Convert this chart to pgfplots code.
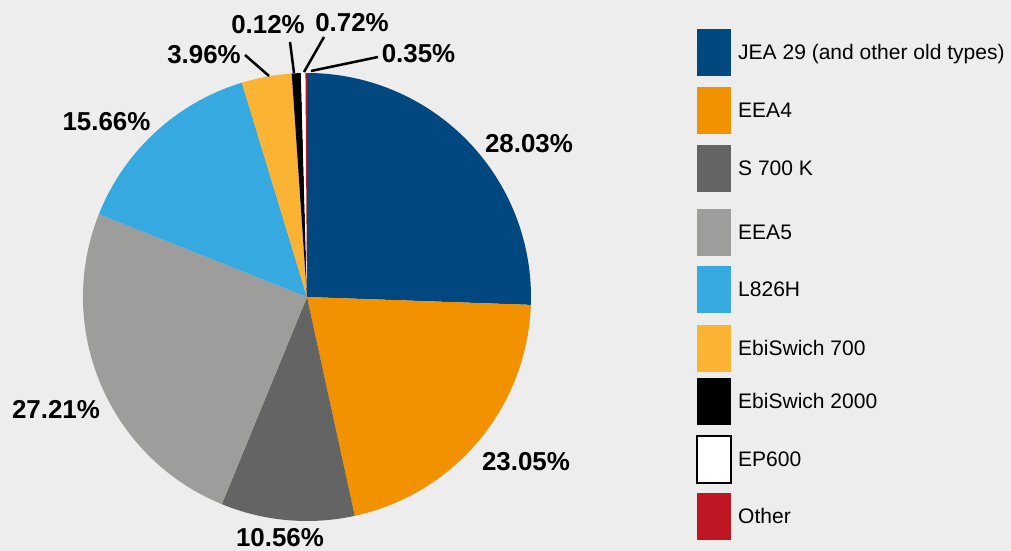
\documentclass[border=0pt]{standalone}
\usepackage{fontspec}
\setmainfont{Liberation Sans}
\usepackage{pgfplots}
\usepackage{pgfplotstable}
\pgfplotsset{compat=1.18}
\definecolor{bgcol}{HTML}{EDEDED}
\definecolor{cJEA}{HTML}{00487F}
\definecolor{cEEAfour}{HTML}{F39200}
\definecolor{cSK}{HTML}{646464}
\definecolor{cEEAfive}{HTML}{9D9D9C}
\definecolor{cL}{HTML}{36A9E1}
\definecolor{cEbiA}{HTML}{FBB334}
\definecolor{cEbiB}{HTML}{000000}
\definecolor{cEP}{HTML}{FFFFFF}
\definecolor{cOther}{HTML}{BE1622}

% value = share, col = slice colour, ytop = legend box top (px from top), bd = legend box border
\pgfplotstableread[col sep=comma]{
name,value,col,ytop,bd
JEA 29 (and other old types),28.03,cJEA,29,none
EEA4,23.05,cEEAfour,87,none
S 700 K,10.56,cSK,145,none
EEA5,27.21,cEEAfive,209,none
L826H,15.66,cL,266,none
EbiSwich 700,3.96,cEbiA,325,none
EbiSwich 2000,0.72,cEbiB,378,none
EP600,0.35,cEP,436,black
Other,0.12,cOther,493,none
}\piedata

\begin{document}
\begin{tikzpicture}
\fill[bgcol] (0,0) rectangle (1011bp,551bp);
\useasboundingbox (0,0) rectangle (1011bp,551bp);
\begin{axis}[
  at={(0,0)}, anchor=origin,
  x=1bp, y=1bp,
  xmin=0, xmax=1011, ymin=0, ymax=551,
  hide axis, clip=false,
]
\pgfplotsextra{
  \pgfplotstablegetrowsof{\piedata}
  \pgfmathtruncatemacro\nlast{\pgfplotsretval-1}
  \gdef\pietot{0}
  \foreach \i in {0,...,\nlast}{
    \pgfplotstablegetelem{\i}{value}\of\piedata
    \pgfmathparse{\pietot+\pgfplotsretval}
    \xdef\pietot{\pgfmathresult}
  }
  \gdef\piecum{90}
  \foreach \i in {0,...,\nlast}{
    \pgfplotstablegetelem{\i}{value}\of\piedata \let\sval\pgfplotsretval
    \pgfplotstablegetelem{\i}{col}\of\piedata \let\scol\pgfplotsretval
    \pgfmathsetmacro\send{\piecum-360*\sval/\pietot}
    \fill[fill=\scol] (axis cs:307,254) -- (axis cs:{307+224*cos(\piecum)},{254+224*sin(\piecum)})
       arc[start angle=\piecum, end angle=\send, radius=224bp] -- cycle;
    \xdef\piecum{\send}
  }
  % legend
  \foreach \i in {0,...,\nlast}{
    \pgfplotstablegetelem{\i}{name}\of\piedata \let\lname\pgfplotsretval
    \pgfplotstablegetelem{\i}{col}\of\piedata \let\scol\pgfplotsretval
    \pgfplotstablegetelem{\i}{ytop}\of\piedata \let\ltop\pgfplotsretval
    \pgfplotstablegetelem{\i}{bd}\of\piedata \let\lbd\pgfplotsretval
    \pgfmathsetmacro\yt{551-\ltop}
    \filldraw[fill=\scol, draw=\lbd, line width=2bp] (axis cs:697,\yt) rectangle (axis cs:731,{\yt-47});
    \node[anchor=base west, inner sep=0pt] at (axis cs:738,{\yt-30.5}) {\fontsize{21.1}{25}\selectfont\lname};
  }
}
% leader lines
\draw[line width=2.5bp] (axis cs:245,496) -- (axis cs:269,475);
\draw[line width=2.5bp] (axis cs:290,509) -- (axis cs:294,478);
\draw[line width=2.5bp] (axis cs:324,514) -- (axis cs:304,479);
\draw[line width=2.5bp] (axis cs:378,494) -- (axis cs:311,480);
% percentage labels
\begin{scope}[every node/.style={anchor=base, inner sep=0pt, font=\fontsize{26}{30}\selectfont\bfseries}]
\node at (axis cs:529,398) {28.03\%};
\node at (axis cs:526,81) {23.05\%};
\node at (axis cs:280,4.7) {10.56\%};
\node at (axis cs:56,133) {27.21\%};
\node at (axis cs:106.5,420) {15.66\%};
\node at (axis cs:204,487.5) {3.96\%};
\node at (axis cs:268,517) {0.12\%};
\node at (axis cs:352,519) {0.72\%};
\node at (axis cs:418.5,488) {0.35\%};
\end{scope}
\end{axis}
\end{tikzpicture}
\end{document}
